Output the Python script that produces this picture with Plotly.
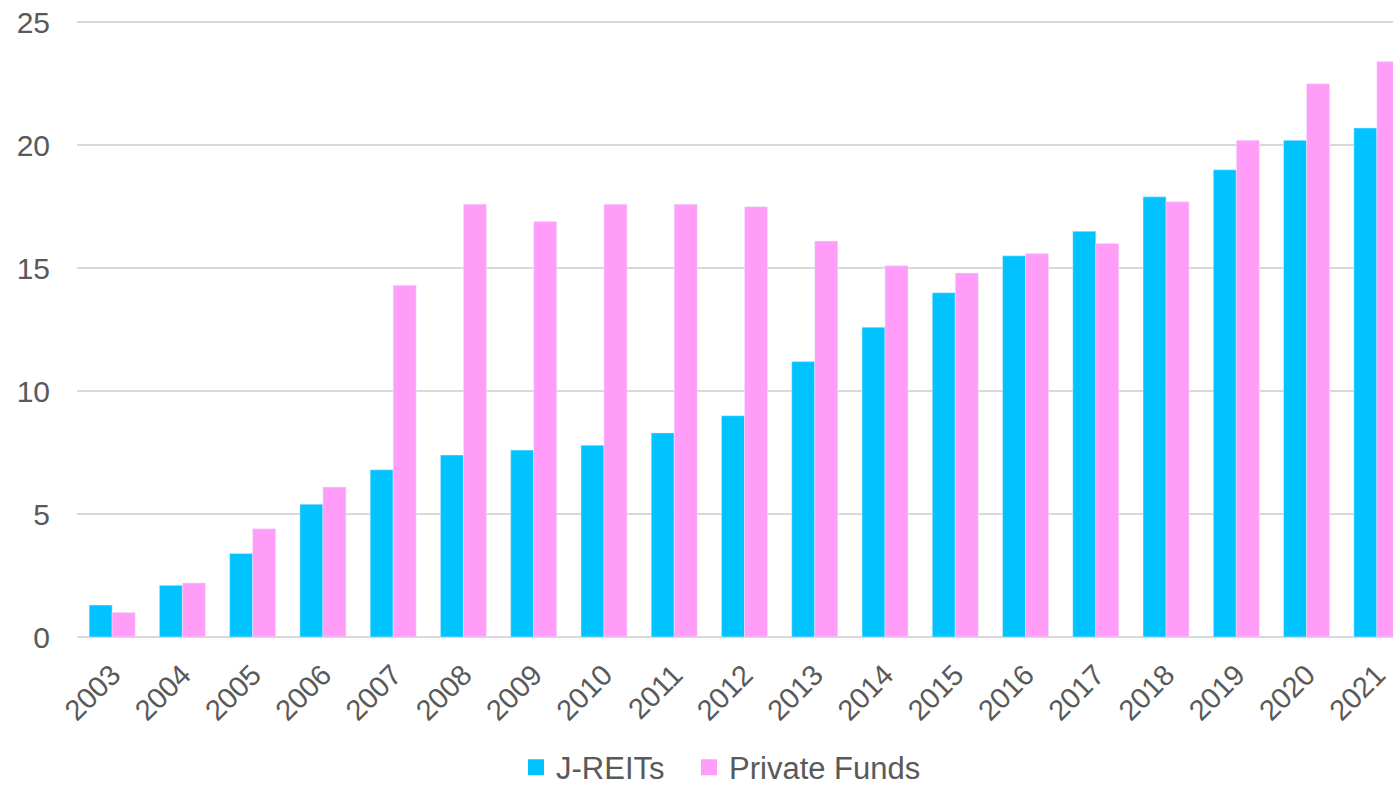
import plotly.graph_objects as go

years = [str(y) for y in range(2003, 2022)]
jreits = [1.3, 2.1, 3.4, 5.4, 6.8, 7.4, 7.6, 7.8, 8.3, 9.0, 11.2, 12.6, 14.0, 15.5, 16.5, 17.9, 19.0, 20.2, 20.7]
private_funds = [1.0, 2.2, 4.4, 6.1, 14.3, 17.6, 16.9, 17.6, 17.6, 17.5, 16.1, 15.1, 14.8, 15.6, 16.0, 17.7, 20.2, 22.5, 23.4]
y_ticks = [0, 5, 10, 15, 20, 25]
series_names = ["J-REITs", "Private Funds"]
series_colors = ["#00C3FF", "#FF9DF9"]

fig = go.Figure()
for name, vals, col in zip(series_names, [jreits, private_funds], series_colors):
    fig.add_trace(go.Bar(x=years, y=vals, name=name, marker_color=col, showlegend=False))
for name, col, lg in zip(series_names, series_colors, ["legend", "legend2"]):
    fig.add_trace(go.Scatter(x=[None], y=[None], mode="markers", name=name, legend=lg,
                             marker=dict(symbol="square", size=16, color=col)))

legend_common = dict(orientation="h", xref="container", xanchor="left", yref="paper", y=-0.212,
                     yanchor="middle", font=dict(size=31, color="#595959"), itemwidth=30,
                     bgcolor="rgba(0,0,0,0)")
fig.update_layout(
    width=1393, height=787,
    margin=dict(l=77, r=0, t=21, b=150, autoexpand=False),
    paper_bgcolor="white", plot_bgcolor="white",
    barmode="group", bargap=0.345, bargroupgap=0,
    font=dict(family="Liberation Sans, Arial", color="#595959"),
    showlegend=True,
    legend=dict(x=516 / 1393, **legend_common),
    legend2=dict(x=689 / 1393, **legend_common),
)
fig.update_xaxes(type="category", tickangle=-45, tickfont=dict(size=29, color="#595959"),
                 range=[-0.5, 18.23], showgrid=False, showline=False, ticks="",
                 automargin=False, ticklabelstandoff=14)
fig.update_yaxes(range=[0, 25.05], tickvals=y_ticks, tickfont=dict(size=30, color="#595959"),
                 gridcolor="#D9D9D9", gridwidth=1.5, zeroline=True, zerolinecolor="#D9D9D9",
                 zerolinewidth=1.5, showline=False, ticks="", ticklabelstandoff=26, automargin=False)

fig.write_html("out.html", config={"displayModeBar": False},
               post_script="document.body.style.margin='0';document.body.style.overflow='hidden';")
